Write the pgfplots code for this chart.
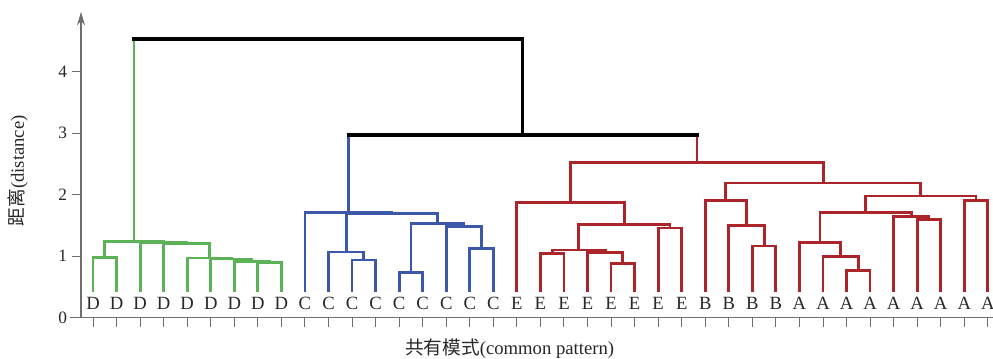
\documentclass[border=0pt]{standalone}
\usepackage{pgfplots}
\pgfplotsset{compat=1.18}
\usepackage{fontspec}
\setmainfont{Liberation Serif}
\newfontfamily\cjk{Noto Sans CJK SC}
\usetikzlibrary{arrows.meta}
\definecolor{cg}{RGB}{92,178,86}
\definecolor{cb}{RGB}{61,88,168}
\definecolor{cr}{RGB}{172,37,43}
\definecolor{axc}{RGB}{110,110,110}
\definecolor{txt}{RGB}{40,40,40}
% color, x1, y1, x2, y2, h
\newcommand\lnk[6]{\addplot[#1, line width=2.1pt, line cap=rect] coordinates {(#2,#3) (#2,#6) (#4,#6) (#4,#5)};}
\newcommand\leg[4]{\addplot[#1, line width=2.1pt, line cap=rect] coordinates {(#2,#3) (#2,#4)};}
\begin{document}
\begin{tikzpicture}
\begin{axis}[
  scale only axis, width=684pt, height=229.3pt,
  xmin=-0.51, xmax=38.22, ymin=0, ymax=4.97,
  axis lines=left,
  x axis line style={-, axc, line width=0.8pt, shorten <=-8pt},
  y axis line style={-{Stealth[length=10pt,width=6pt]}, axc, line width=0.8pt},
  xtick={0,...,38}, xticklabels={},
  ytick={0,1,2,3,4},
  tick align=outside, major tick length=7pt,
  tick style={axc, line width=0.7pt},
  /pgf/number format/assume math mode=true,
  yticklabel style={font=\fontsize{13}{13}\selectfont, text=txt},
  xlabel={{\cjk 共有模式}(common pattern)},
  xlabel style={at={(axis description cs:0.470,-0.1024)}, anchor=center, font=\fontsize{14}{14}\selectfont, text=txt},
  ylabel={{\cjk 距离}(distance)},
  ylabel style={at={(axis description cs:-0.069,0.4805)}, anchor=center, font=\fontsize{14}{14}\selectfont, text=txt},
  clip=false,
]
\coordinate (bl) at (rel axis cs:0,0);
\coordinate (tr) at (rel axis cs:1,1);
% leaf labels
\addplot[draw=none, nodes near coords, point meta=explicit symbolic,
  nodes near coords style={anchor=center, font=\fontsize{14}{14}\selectfont, text=txt}]
  table[meta=l] {
x y l
0 0.24 D
1 0.24 D
2 0.24 D
3 0.24 D
4 0.24 D
5 0.24 D
6 0.24 D
7 0.24 D
8 0.24 D
9 0.24 C
10 0.24 C
11 0.24 C
12 0.24 C
13 0.24 C
14 0.24 C
15 0.24 C
16 0.24 C
17 0.24 C
18 0.24 E
19 0.24 E
20 0.24 E
21 0.24 E
22 0.24 E
23 0.24 E
24 0.24 E
25 0.24 E
26 0.24 B
27 0.24 B
28 0.24 B
29 0.24 B
30 0.24 A
31 0.24 A
32 0.24 A
33 0.24 A
34 0.24 A
35 0.24 A
36 0.24 A
37 0.24 A
38 0.24 A
};
% green cluster
\lnk{cg}{0}{0.44}{1}{0.44}{0.98}
\lnk{cg}{7}{0.44}{8}{0.44}{0.895}
\lnk{cg}{6}{0.44}{7.5}{0.895}{0.92}
\lnk{cg}{5}{0.44}{6.75}{0.92}{0.955}
\lnk{cg}{4}{0.44}{5.875}{0.955}{0.97}
\lnk{cg}{3}{0.44}{4.9375}{0.97}{1.21}
\lnk{cg}{2}{0.44}{3.96875}{1.21}{1.225}
\lnk{cg}{0.5}{0.98}{2.984375}{1.225}{1.24}
% blue cluster
\lnk{cb}{11}{0.44}{12}{0.44}{0.94}
\lnk{cb}{10}{0.44}{11.5}{0.94}{1.07}
\lnk{cb}{13}{0.44}{14}{0.44}{0.73}
\lnk{cb}{16}{0.44}{17}{0.44}{1.13}
\lnk{cb}{15}{0.44}{16.5}{1.13}{1.48}
\lnk{cb}{13.5}{0.73}{15.75}{1.48}{1.53}
\lnk{cb}{10.75}{1.07}{14.625}{1.53}{1.70}
\lnk{cb}{9}{0.44}{12.6875}{1.70}{1.715}
% red cluster
\lnk{cr}{19}{0.44}{20}{0.44}{1.045}
\lnk{cr}{22}{0.44}{23}{0.44}{0.885}
\lnk{cr}{21}{0.44}{22.5}{0.885}{1.06}
\lnk{cr}{19.5}{1.045}{21.75}{1.06}{1.10}
\lnk{cr}{24}{0.44}{25}{0.44}{1.46}
\lnk{cr}{20.625}{1.10}{24.5}{1.46}{1.51}
\lnk{cr}{18}{0.44}{22.5625}{1.51}{1.87}
\lnk{cr}{28}{0.44}{29}{0.44}{1.165}
\lnk{cr}{27}{0.44}{28.5}{1.165}{1.50}
\lnk{cr}{26}{0.44}{27.75}{1.50}{1.90}
\lnk{cr}{32}{0.44}{33}{0.44}{0.765}
\lnk{cr}{31}{0.44}{32.5}{0.765}{0.99}
\lnk{cr}{30}{0.44}{31.75}{0.99}{1.22}
\lnk{cr}{35}{0.44}{36}{0.44}{1.60}
\lnk{cr}{34}{0.44}{35.5}{1.60}{1.64}
\lnk{cr}{30.875}{1.22}{34.75}{1.64}{1.71}
\lnk{cr}{37}{0.44}{38}{0.44}{1.91}
\lnk{cr}{32.8125}{1.71}{37.5}{1.91}{1.98}
\lnk{cr}{26.875}{1.90}{35.15625}{1.98}{2.19}
\lnk{cr}{20.28125}{1.87}{31.015625}{2.19}{2.53}
% top links: legs in child colours, bars in black
\leg{cb}{10.84375}{1.715}{2.97}
\leg{cr}{25.6484375}{2.53}{2.97}
\leg{cg}{1.7421875}{1.24}{4.53}
\addplot[black, line width=2.4pt, line cap=rect] coordinates {(18.24609375,2.97) (18.24609375,4.53)};
\addplot[black, line width=2.4pt, line cap=rect] coordinates {(10.84375,2.97) (25.6484375,2.97)};
\addplot[black, line width=2.4pt, line cap=rect] coordinates {(1.7421875,4.53) (18.24609375,4.53)};
\end{axis}
\pgfresetboundingbox
\path ([shift={(-60.75pt,-30.2pt)}]bl) rectangle ([shift={(0pt,9pt)}]tr);
\end{tikzpicture}
\end{document}
